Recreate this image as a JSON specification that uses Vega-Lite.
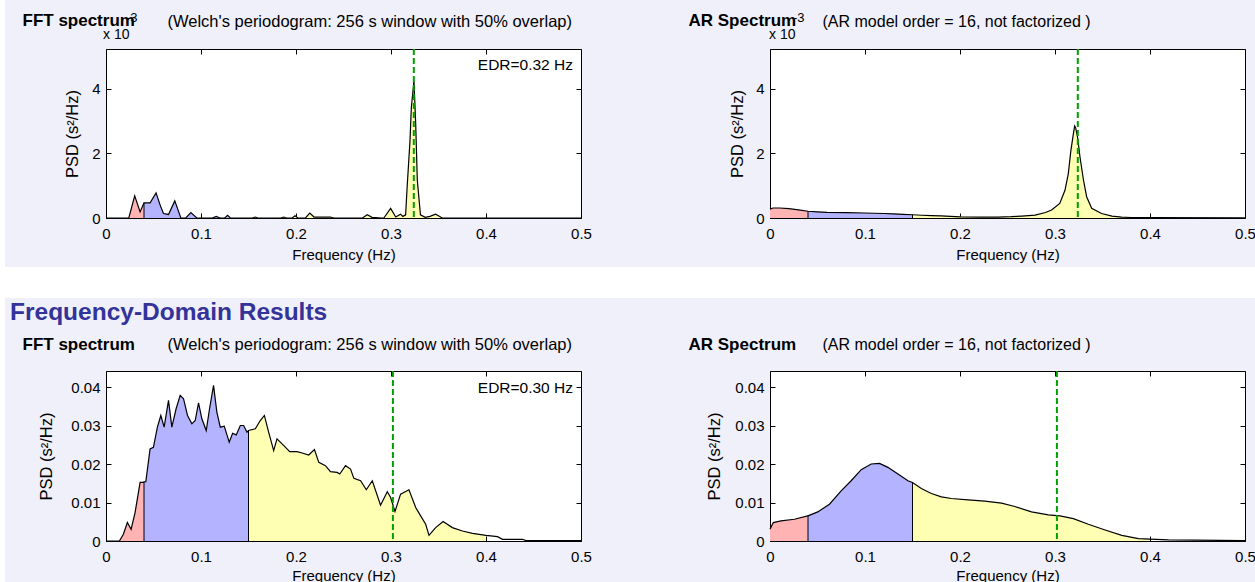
{
  "$schema": "https://vega.github.io/schema/vega-lite/v6.json",
  "background": "#F0F0FA",
  "padding": 0,
  "bounds": "flush",
  "spacing": 0,
  "columns": 6,
  "datasets": {
    "tl": [
      {"f":0,"p":0,"b":"VLF"},{"f":0.024,"p":0,"b":"VLF"},{"f":0.0302,"p":0.69,"b":"VLF"},{"f":0.0359,"p":0.19,"b":"VLF"},{"f":0.04,"p":0.47,"b":"VLF"},
      {"f":0.04,"p":0.47,"b":"LF"},{"f":0.0464,"p":0.47,"b":"LF"},{"f":0.0527,"p":0.78,"b":"LF"},{"f":0.057,"p":0.4,"b":"LF"},{"f":0.0605,"p":0.14,"b":"LF"},{"f":0.0658,"p":0.11,"b":"LF"},{"f":0.0724,"p":0.53,"b":"LF"},{"f":0.0788,"p":0,"b":"LF"},{"f":0.084,"p":0,"b":"LF"},{"f":0.0893,"p":0.17,"b":"LF"},{"f":0.0956,"p":0,"b":"LF"},{"f":0.112,"p":0,"b":"LF"},{"f":0.116,"p":0.05,"b":"LF"},{"f":0.12,"p":0,"b":"LF"},{"f":0.125,"p":0,"b":"LF"},{"f":0.128,"p":0.08,"b":"LF"},{"f":0.131,"p":0,"b":"LF"},{"f":0.15,"p":0,"b":"LF"},
      {"f":0.15,"p":0,"b":"HF"},{"f":0.154,"p":0,"b":"HF"},{"f":0.157,"p":0.03,"b":"HF"},{"f":0.16,"p":0,"b":"HF"},{"f":0.184,"p":0,"b":"HF"},{"f":0.187,"p":0.03,"b":"HF"},{"f":0.19,"p":0,"b":"HF"},{"f":0.196,"p":0,"b":"HF"},{"f":0.199,"p":0.07,"b":"HF"},{"f":0.202,"p":0,"b":"HF"},{"f":0.21,"p":0,"b":"HF"},{"f":0.2145,"p":0.15,"b":"HF"},{"f":0.219,"p":0.03,"b":"HF"},{"f":0.226,"p":0.03,"b":"HF"},{"f":0.236,"p":0.03,"b":"HF"},{"f":0.24,"p":0,"b":"HF"},{"f":0.27,"p":0,"b":"HF"},{"f":0.275,"p":0.1,"b":"HF"},{"f":0.28,"p":0.02,"b":"HF"},{"f":0.29,"p":0,"b":"HF"},{"f":0.2925,"p":0,"b":"HF"},{"f":0.2996,"p":0.3,"b":"HF"},{"f":0.305,"p":0.03,"b":"HF"},{"f":0.31,"p":0.12,"b":"HF"},{"f":0.3125,"p":0.05,"b":"HF"},{"f":0.3154,"p":0.1,"b":"HF"},{"f":0.317,"p":0.96,"b":"HF"},{"f":0.32,"p":2.4,"b":"HF"},{"f":0.3214,"p":3.42,"b":"HF"},{"f":0.3242,"p":4.25,"b":"HF"},{"f":0.326,"p":2.91,"b":"HF"},{"f":0.3277,"p":1.17,"b":"HF"},{"f":0.331,"p":0.1,"b":"HF"},{"f":0.336,"p":0.02,"b":"HF"},{"f":0.341,"p":0.05,"b":"HF"},{"f":0.347,"p":0.12,"b":"HF"},{"f":0.354,"p":0,"b":"HF"},{"f":0.4,"p":0,"b":"HF"},
      {"f":0.4,"p":0,"b":"none"},{"f":0.5,"p":0,"b":"none"}
    ],
    "tr": [
      {"f":0,"p":0.27,"b":"VLF"},{"f":0.003,"p":0.31,"b":"VLF"},{"f":0.01,"p":0.31,"b":"VLF"},{"f":0.02,"p":0.29,"b":"VLF"},{"f":0.03,"p":0.25,"b":"VLF"},{"f":0.04,"p":0.21,"b":"VLF"},
      {"f":0.04,"p":0.21,"b":"LF"},{"f":0.05,"p":0.19,"b":"LF"},{"f":0.06,"p":0.175,"b":"LF"},{"f":0.08,"p":0.165,"b":"LF"},{"f":0.1,"p":0.155,"b":"LF"},{"f":0.12,"p":0.14,"b":"LF"},{"f":0.13,"p":0.13,"b":"LF"},{"f":0.14,"p":0.115,"b":"LF"},{"f":0.15,"p":0.1,"b":"LF"},
      {"f":0.15,"p":0.1,"b":"HF"},{"f":0.16,"p":0.085,"b":"HF"},{"f":0.17,"p":0.075,"b":"HF"},{"f":0.18,"p":0.065,"b":"HF"},{"f":0.19,"p":0.05,"b":"HF"},{"f":0.2,"p":0.035,"b":"HF"},{"f":0.22,"p":0.025,"b":"HF"},{"f":0.24,"p":0.03,"b":"HF"},{"f":0.254,"p":0.04,"b":"HF"},{"f":0.265,"p":0.06,"b":"HF"},{"f":0.279,"p":0.09,"b":"HF"},{"f":0.29,"p":0.17,"b":"HF"},{"f":0.2964,"p":0.25,"b":"HF"},{"f":0.305,"p":0.45,"b":"HF"},{"f":0.3105,"p":0.86,"b":"HF"},{"f":0.314,"p":1.37,"b":"HF"},{"f":0.3167,"p":2.09,"b":"HF"},{"f":0.3193,"p":2.6,"b":"HF"},{"f":0.3207,"p":2.85,"b":"HF"},{"f":0.3217,"p":2.8,"b":"HF"},{"f":0.3238,"p":2.5,"b":"HF"},{"f":0.3263,"p":1.89,"b":"HF"},{"f":0.33,"p":1.17,"b":"HF"},{"f":0.3333,"p":0.66,"b":"HF"},{"f":0.3386,"p":0.3,"b":"HF"},{"f":0.349,"p":0.14,"b":"HF"},{"f":0.36,"p":0.06,"b":"HF"},{"f":0.37,"p":0.03,"b":"HF"},{"f":0.38,"p":0.015,"b":"HF"},{"f":0.4,"p":0.01,"b":"HF"},
      {"f":0.4,"p":0.01,"b":"none"},{"f":0.5,"p":0.005,"b":"none"}
    ],
    "bl": [
      {"f":0,"p":0,"b":"VLF"},{"f":0.0141,"p":0,"b":"VLF"},{"f":0.0183,"p":0.00174,"b":"VLF"},{"f":0.0225,"p":0.00479,"b":"VLF"},{"f":0.0264,"p":0.00305,"b":"VLF"},{"f":0.0306,"p":0.0074,"b":"VLF"},{"f":0.0359,"p":0.01523,"b":"VLF"},{"f":0.0394,"p":0.01523,"b":"VLF"},{"f":0.04,"p":0.0154,"b":"VLF"},
      {"f":0.04,"p":0.0154,"b":"LF"},{"f":0.0419,"p":0.0154,"b":"LF"},{"f":0.0464,"p":0.02393,"b":"LF"},{"f":0.0499,"p":0.02437,"b":"LF"},{"f":0.0541,"p":0.02959,"b":"LF"},{"f":0.0577,"p":0.03264,"b":"LF"},{"f":0.0612,"p":0.02959,"b":"LF"},{"f":0.0658,"p":0.03655,"b":"LF"},{"f":0.0693,"p":0.02959,"b":"LF"},{"f":0.0738,"p":0.03438,"b":"LF"},{"f":0.0781,"p":0.03786,"b":"LF"},{"f":0.0816,"p":0.03699,"b":"LF"},{"f":0.0858,"p":0.03264,"b":"LF"},{"f":0.0904,"p":0.03046,"b":"LF"},{"f":0.0939,"p":0.03133,"b":"LF"},{"f":0.0974,"p":0.03594,"b":"LF"},{"f":0.1009,"p":0.03177,"b":"LF"},{"f":0.1055,"p":0.02872,"b":"LF"},{"f":0.109,"p":0.03438,"b":"LF"},{"f":0.1132,"p":0.04047,"b":"LF"},{"f":0.1167,"p":0.03351,"b":"LF"},{"f":0.1203,"p":0.02959,"b":"LF"},{"f":0.1245,"p":0.02985,"b":"LF"},{"f":0.1297,"p":0.02567,"b":"LF"},{"f":0.1333,"p":0.02802,"b":"LF"},{"f":0.1371,"p":0.02759,"b":"LF"},{"f":0.1414,"p":0.03003,"b":"LF"},{"f":0.1449,"p":0.03003,"b":"LF"},{"f":0.1484,"p":0.02829,"b":"LF"},{"f":0.15,"p":0.02872,"b":"LF"},
      {"f":0.15,"p":0.02872,"b":"HF"},{"f":0.1572,"p":0.02916,"b":"HF"},{"f":0.1624,"p":0.03133,"b":"HF"},{"f":0.1667,"p":0.03264,"b":"HF"},{"f":0.1712,"p":0.02829,"b":"HF"},{"f":0.1765,"p":0.0235,"b":"HF"},{"f":0.18,"p":0.02655,"b":"HF"},{"f":0.1864,"p":0.02498,"b":"HF"},{"f":0.1934,"p":0.02324,"b":"HF"},{"f":0.2011,"p":0.02324,"b":"HF"},{"f":0.2064,"p":0.02289,"b":"HF"},{"f":0.2134,"p":0.02237,"b":"HF"},{"f":0.2194,"p":0.02376,"b":"HF"},{"f":0.224,"p":0.02045,"b":"HF"},{"f":0.231,"p":0.01958,"b":"HF"},{"f":0.2363,"p":0.01802,"b":"HF"},{"f":0.2433,"p":0.01784,"b":"HF"},{"f":0.2461,"p":0.01741,"b":"HF"},{"f":0.2521,"p":0.01958,"b":"HF"},{"f":0.2574,"p":0.01871,"b":"HF"},{"f":0.2609,"p":0.01628,"b":"HF"},{"f":0.268,"p":0.01567,"b":"HF"},{"f":0.274,"p":0.01332,"b":"HF"},{"f":0.2803,"p":0.01567,"b":"HF"},{"f":0.289,"p":0.00931,"b":"HF"},{"f":0.2961,"p":0.01279,"b":"HF"},{"f":0.2996,"p":0.01131,"b":"HF"},{"f":0.3042,"p":0.00766,"b":"HF"},{"f":0.3101,"p":0.01218,"b":"HF"},{"f":0.3189,"p":0.01332,"b":"HF"},{"f":0.326,"p":0.0087,"b":"HF"},{"f":0.3312,"p":0.00653,"b":"HF"},{"f":0.3365,"p":0.00435,"b":"HF"},{"f":0.34,"p":0.00148,"b":"HF"},{"f":0.347,"p":0.00348,"b":"HF"},{"f":0.3548,"p":0.00505,"b":"HF"},{"f":0.3646,"p":0.00348,"b":"HF"},{"f":0.3752,"p":0.00261,"b":"HF"},{"f":0.3857,"p":0.002,"b":"HF"},{"f":0.4,"p":0.00148,"b":"HF"},
      {"f":0.4,"p":0.00148,"b":"none"},{"f":0.4121,"p":0.00113,"b":"none"},{"f":0.4174,"p":0.00044,"b":"none"},{"f":0.4385,"p":0.00044,"b":"none"},{"f":0.442,"p":0.0001,"b":"none"},{"f":0.5,"p":0.0001,"b":"none"}
    ],
    "br": [
      {"f":0,"p":0.00305,"b":"VLF"},{"f":0.0035,"p":0.00479,"b":"VLF"},{"f":0.0116,"p":0.00522,"b":"VLF"},{"f":0.0257,"p":0.00566,"b":"VLF"},{"f":0.0397,"p":0.00653,"b":"VLF"},{"f":0.04,"p":0.00655,"b":"VLF"},
      {"f":0.04,"p":0.00655,"b":"LF"},{"f":0.0503,"p":0.00757,"b":"LF"},{"f":0.0626,"p":0.00957,"b":"LF"},{"f":0.0749,"p":0.01305,"b":"LF"},{"f":0.0854,"p":0.01567,"b":"LF"},{"f":0.096,"p":0.01854,"b":"LF"},{"f":0.1065,"p":0.02002,"b":"LF"},{"f":0.1153,"p":0.02019,"b":"LF"},{"f":0.1241,"p":0.01915,"b":"LF"},{"f":0.1347,"p":0.01741,"b":"LF"},{"f":0.1452,"p":0.01567,"b":"LF"},{"f":0.15,"p":0.0152,"b":"LF"},
      {"f":0.15,"p":0.0152,"b":"HF"},{"f":0.1593,"p":0.01366,"b":"HF"},{"f":0.1698,"p":0.01236,"b":"HF"},{"f":0.1804,"p":0.01149,"b":"HF"},{"f":0.1909,"p":0.01105,"b":"HF"},{"f":0.2085,"p":0.0107,"b":"HF"},{"f":0.2261,"p":0.01036,"b":"HF"},{"f":0.2437,"p":0.00983,"b":"HF"},{"f":0.2577,"p":0.00896,"b":"HF"},{"f":0.2753,"p":0.00757,"b":"HF"},{"f":0.2929,"p":0.00679,"b":"HF"},{"f":0.3052,"p":0.00653,"b":"HF"},{"f":0.3193,"p":0.00583,"b":"HF"},{"f":0.3351,"p":0.00435,"b":"HF"},{"f":0.3527,"p":0.00287,"b":"HF"},{"f":0.3703,"p":0.00148,"b":"HF"},{"f":0.3878,"p":0.00061,"b":"HF"},{"f":0.4,"p":0.0005,"b":"HF"},
      {"f":0.4,"p":0.0005,"b":"none"},{"f":0.4195,"p":0.0003,"b":"none"},{"f":0.5,"p":0.0001,"b":"none"}
    ]
  },
  "concat": [
    {"width": 5, "height": 49, "view": {"fill": "white"}, "data": {"values": []}, "mark": "point", "encoding": {}},
    {"width": 101, "height": 49, "data": {"values": []}, "mark": "point", "encoding": {}},
    {"width": 475, "height": 49, "data": {"values": []}, "mark": "point", "encoding": {}},
    {"width": 189, "height": 49, "data": {"values": []}, "mark": "point", "encoding": {}},
    {"width": 475, "height": 49, "data": {"values": []}, "mark": "point", "encoding": {}},
    {"width": 10, "height": 49, "data": {"values": []}, "mark": "point", "encoding": {}},

    {"width": 5, "height": 169, "view": {"fill": "white"}, "data": {"values": []}, "mark": "point", "encoding": {}},
    {"width": 101, "height": 169, "data": {"values": []}, "mark": "point", "encoding": {}},
    {
      "width": 475, "height": 169,
      "view": {"fill": "white", "stroke": "black", "strokeWidth": 1},
      "resolve": {"axis": {"x": "independent", "y": "independent"}},
      "layer": [
        {
          "data": {"name": "tl"},
          "transform": [{"filter": "datum.b != 'none'"}],
          "mark": {"type": "area"},
          "encoding": {
            "x": {"field": "f", "type": "quantitative", "scale": {"domain": [0, 0.5], "nice": false, "zero": false},
                  "axis": {"orient": "bottom", "values": [0, 0.1, 0.2, 0.3, 0.4, 0.5], "format": ".1~f", "title": "Frequency (Hz)", "titleY": 36, "titleBaseline": "middle"}},
            "y": {"field": "p", "type": "quantitative", "stack": null, "scale": {"domain": [0, 5.24], "nice": false},
                  "axis": {"orient": "left", "values": [0, 2, 4], "format": "d", "title": "PSD (s²/Hz)", "titleX": -34, "titleBaseline": "middle", "titleFontSize": 16.5}},
            "color": {"field": "b", "type": "nominal", "scale": {"domain": ["VLF", "LF", "HF"], "range": ["#FFB3B3", "#B3B3FF", "#FFFFB3"]}, "legend": null}
          }
        },
        {
          "data": {"name": "tl"},
          "transform": [{"filter": "datum.b == 'LF' && (datum.f == 0.04 || datum.f == 0.15)"}],
          "mark": {"type": "rule", "color": "black", "strokeWidth": 1},
          "encoding": {"x": {"field": "f", "type": "quantitative", "axis": null}, "y": {"field": "p", "type": "quantitative", "axis": null}, "y2": {"datum": 0}}
        },
        {
          "data": {"name": "tl"},
          "mark": {"type": "line", "color": "black", "strokeWidth": 1.2},
          "encoding": {
            "x": {"field": "f", "type": "quantitative",
                  "axis": {"orient": "top", "values": [0, 0.1, 0.2, 0.3, 0.4, 0.5], "labels": false, "title": "FFT spectrum", "titleX": -84, "titleY": -29, "titleAlign": "left", "titleBaseline": "middle", "titleFontWeight": "bold", "titleFontSize": 17}},
            "y": {"field": "p", "type": "quantitative",
                  "axis": {"orient": "right", "values": [0, 2, 4], "labels": false, "title": "(Welch's periodogram: 256 s window with 50% overlap)", "titleAngle": 0, "titleX": -414, "titleY": -28, "titleAlign": "left", "titleBaseline": "middle", "titleFontSize": 16.5}}
          }
        },
        {
          "data": {"values": [{"edr": 0.324, "label": "EDR=0.32 Hz"}]},
          "mark": {"type": "rule", "color": "#00A000", "strokeWidth": 2, "strokeDash": [6, 3]},
          "encoding": {"x": {"field": "edr", "type": "quantitative", "axis": null}}
        },
        {
          "data": {"values": [{"edr": 0.324, "label": "EDR=0.32 Hz"}]},
          "mark": {"type": "text", "align": "right", "baseline": "middle", "dx": -8, "dy": 16, "fontSize": 15.5},
          "encoding": {"x": {"datum": 0.5, "axis": null}, "y": {"datum": 5.24, "axis": null}, "text": {"field": "label"}}
        },
        {
          "data": {"values": [{"label": "x 10"}]},
          "mark": {"type": "text", "align": "left", "baseline": "middle", "dx": -3, "dy": -14, "fontSize": 14},
          "encoding": {"x": {"datum": 0, "axis": null}, "y": {"datum": 5.24, "axis": null}, "text": {"field": "label"}}
        },
        {
          "data": {"values": [{"label": "-3"}]},
          "mark": {"type": "text", "align": "left", "baseline": "middle", "dx": 20, "dy": -31, "fontSize": 13},
          "encoding": {"x": {"datum": 0, "axis": null}, "y": {"datum": 5.24, "axis": null}, "text": {"field": "label"}}
        }
      ]
    },
    {"width": 189, "height": 169, "data": {"values": []}, "mark": "point", "encoding": {}},
    {
      "width": 475, "height": 169,
      "view": {"fill": "white", "stroke": "black", "strokeWidth": 1},
      "resolve": {"axis": {"x": "independent", "y": "independent"}},
      "layer": [
        {
          "data": {"name": "tr"},
          "transform": [{"filter": "datum.b != 'none'"}],
          "mark": {"type": "area"},
          "encoding": {
            "x": {"field": "f", "type": "quantitative", "scale": {"domain": [0, 0.5], "nice": false, "zero": false},
                  "axis": {"orient": "bottom", "values": [0, 0.1, 0.2, 0.3, 0.4, 0.5], "format": ".1~f", "title": "Frequency (Hz)", "titleY": 36, "titleBaseline": "middle"}},
            "y": {"field": "p", "type": "quantitative", "stack": null, "scale": {"domain": [0, 5.24], "nice": false},
                  "axis": {"orient": "left", "values": [0, 2, 4], "format": "d", "title": "PSD (s²/Hz)", "titleX": -33, "titleBaseline": "middle", "titleFontSize": 16.5}},
            "color": {"field": "b", "type": "nominal", "scale": {"domain": ["VLF", "LF", "HF"], "range": ["#FFB3B3", "#B3B3FF", "#FFFFB3"]}, "legend": null}
          }
        },
        {
          "data": {"name": "tr"},
          "transform": [{"filter": "datum.b == 'LF' && (datum.f == 0.04 || datum.f == 0.15)"}],
          "mark": {"type": "rule", "color": "black", "strokeWidth": 1},
          "encoding": {"x": {"field": "f", "type": "quantitative", "axis": null}, "y": {"field": "p", "type": "quantitative", "axis": null}, "y2": {"datum": 0}}
        },
        {
          "data": {"name": "tr"},
          "mark": {"type": "line", "color": "black", "strokeWidth": 1.2},
          "encoding": {
            "x": {"field": "f", "type": "quantitative",
                  "axis": {"orient": "top", "values": [0, 0.1, 0.2, 0.3, 0.4, 0.5], "labels": false, "title": "AR Spectrum", "titleX": -82, "titleY": -29, "titleAlign": "left", "titleBaseline": "middle", "titleFontWeight": "bold", "titleFontSize": 17}},
            "y": {"field": "p", "type": "quantitative",
                  "axis": {"orient": "right", "values": [0, 2, 4], "labels": false, "title": "(AR model order = 16, not factorized )", "titleAngle": 0, "titleX": -423, "titleY": -28, "titleAlign": "left", "titleBaseline": "middle", "titleFontSize": 16}}
          }
        },
        {
          "data": {"values": [{"edr": 0.324}]},
          "mark": {"type": "rule", "color": "#00A000", "strokeWidth": 2, "strokeDash": [6, 3]},
          "encoding": {"x": {"field": "edr", "type": "quantitative", "axis": null}}
        },
        {
          "data": {"values": [{"label": "x 10"}]},
          "mark": {"type": "text", "align": "left", "baseline": "middle", "dx": -1, "dy": -14, "fontSize": 14},
          "encoding": {"x": {"datum": 0, "axis": null}, "y": {"datum": 5.24, "axis": null}, "text": {"field": "label"}}
        },
        {
          "data": {"values": [{"label": "-3"}]},
          "mark": {"type": "text", "align": "left", "baseline": "middle", "dx": 23, "dy": -31, "fontSize": 13},
          "encoding": {"x": {"datum": 0, "axis": null}, "y": {"datum": 5.24, "axis": null}, "text": {"field": "label"}}
        }
      ]
    },
    {"width": 10, "height": 169, "data": {"values": []}, "mark": "point", "encoding": {}},

    {"width": 5, "height": 49, "view": {"fill": "white"}, "data": {"values": []}, "mark": "point", "encoding": {}},
    {"width": 101, "height": 49, "data": {"values": []}, "mark": "point", "encoding": {}},
    {"width": 475, "height": 49, "data": {"values": []}, "mark": "point", "encoding": {}},
    {"width": 189, "height": 49, "data": {"values": []}, "mark": "point", "encoding": {}},
    {"width": 475, "height": 49, "data": {"values": []}, "mark": "point", "encoding": {}},
    {"width": 10, "height": 49, "data": {"values": []}, "mark": "point", "encoding": {}},

    {"width": 5, "height": 31, "view": {"fill": "white"}, "data": {"values": []}, "mark": "point", "encoding": {}},
    {
      "width": 101, "height": 31, "view": {"fill": "white"},
      "title": {"text": "Frequency-Domain Results", "orient": "bottom", "anchor": "start", "frame": "group", "dx": 5, "offset": 15, "baseline": "middle", "fontSize": 24.5, "fontWeight": "bold", "color": "#333399", "font": "Liberation Sans"},
      "data": {"values": []}, "mark": "point", "encoding": {}
    },
    {"width": 475, "height": 31, "view": {"fill": "white"}, "data": {"values": []}, "mark": "point", "encoding": {}},
    {"width": 189, "height": 31, "view": {"fill": "white"}, "data": {"values": []}, "mark": "point", "encoding": {}},
    {"width": 475, "height": 31, "view": {"fill": "white"}, "data": {"values": []}, "mark": "point", "encoding": {}},
    {"width": 10, "height": 31, "view": {"fill": "white"}, "data": {"values": []}, "mark": "point", "encoding": {}},

    {"width": 5, "height": 73, "view": {"fill": "white"}, "data": {"values": []}, "mark": "point", "encoding": {}},
    {"width": 101, "height": 73, "data": {"values": []}, "mark": "point", "encoding": {}},
    {"width": 475, "height": 73, "data": {"values": []}, "mark": "point", "encoding": {}},
    {"width": 189, "height": 73, "data": {"values": []}, "mark": "point", "encoding": {}},
    {"width": 475, "height": 73, "data": {"values": []}, "mark": "point", "encoding": {}},
    {"width": 10, "height": 73, "data": {"values": []}, "mark": "point", "encoding": {}},

    {"width": 5, "height": 170, "view": {"fill": "white"}, "data": {"values": []}, "mark": "point", "encoding": {}},
    {"width": 101, "height": 170, "data": {"values": []}, "mark": "point", "encoding": {}},
    {
      "width": 475, "height": 170,
      "view": {"fill": "white", "stroke": "black", "strokeWidth": 1},
      "resolve": {"axis": {"x": "independent", "y": "independent"}},
      "layer": [
        {
          "data": {"name": "bl"},
          "transform": [{"filter": "datum.b != 'none'"}],
          "mark": {"type": "area"},
          "encoding": {
            "x": {"field": "f", "type": "quantitative", "scale": {"domain": [0, 0.5], "nice": false, "zero": false},
                  "axis": {"orient": "bottom", "values": [0, 0.1, 0.2, 0.3, 0.4, 0.5], "format": ".1~f", "title": "Frequency (Hz)", "titleY": 34, "titleBaseline": "middle"}},
            "y": {"field": "p", "type": "quantitative", "stack": null, "scale": {"domain": [0, 0.0442], "nice": false},
                  "axis": {"orient": "left", "values": [0, 0.01, 0.02, 0.03, 0.04], "format": ".2~f", "title": "PSD (s²/Hz)", "titleX": -60, "titleBaseline": "middle", "titleFontSize": 16.5}},
            "color": {"field": "b", "type": "nominal", "scale": {"domain": ["VLF", "LF", "HF"], "range": ["#FFB3B3", "#B3B3FF", "#FFFFB3"]}, "legend": null}
          }
        },
        {
          "data": {"name": "bl"},
          "transform": [{"filter": "datum.b == 'LF' && (datum.f == 0.04 || datum.f == 0.15)"}],
          "mark": {"type": "rule", "color": "black", "strokeWidth": 1},
          "encoding": {"x": {"field": "f", "type": "quantitative", "axis": null}, "y": {"field": "p", "type": "quantitative", "axis": null}, "y2": {"datum": 0}}
        },
        {
          "data": {"name": "bl"},
          "mark": {"type": "line", "color": "black", "strokeWidth": 1.2},
          "encoding": {
            "x": {"field": "f", "type": "quantitative",
                  "axis": {"orient": "top", "values": [0, 0.1, 0.2, 0.3, 0.4, 0.5], "labels": false, "title": "FFT spectrum", "titleX": -84, "titleY": -27, "titleAlign": "left", "titleBaseline": "middle", "titleFontWeight": "bold", "titleFontSize": 17}},
            "y": {"field": "p", "type": "quantitative",
                  "axis": {"orient": "right", "values": [0, 0.01, 0.02, 0.03, 0.04], "labels": false, "title": "(Welch's periodogram: 256 s window with 50% overlap)", "titleAngle": 0, "titleX": -414, "titleY": -27, "titleAlign": "left", "titleBaseline": "middle", "titleFontSize": 16.5}}
          }
        },
        {
          "data": {"values": [{"edr": 0.302, "label": "EDR=0.30 Hz"}]},
          "mark": {"type": "rule", "color": "#00A000", "strokeWidth": 2, "strokeDash": [6, 3]},
          "encoding": {"x": {"field": "edr", "type": "quantitative", "axis": null}}
        },
        {
          "data": {"values": [{"edr": 0.302, "label": "EDR=0.30 Hz"}]},
          "mark": {"type": "text", "align": "right", "baseline": "middle", "dx": -8, "dy": 17, "fontSize": 15.5},
          "encoding": {"x": {"datum": 0.5, "axis": null}, "y": {"datum": 0.0442, "axis": null}, "text": {"field": "label"}}
        }
      ]
    },
    {"width": 189, "height": 170, "data": {"values": []}, "mark": "point", "encoding": {}},
    {
      "width": 475, "height": 170,
      "view": {"fill": "white", "stroke": "black", "strokeWidth": 1},
      "resolve": {"axis": {"x": "independent", "y": "independent"}},
      "layer": [
        {
          "data": {"name": "br"},
          "transform": [{"filter": "datum.b != 'none'"}],
          "mark": {"type": "area"},
          "encoding": {
            "x": {"field": "f", "type": "quantitative", "scale": {"domain": [0, 0.5], "nice": false, "zero": false},
                  "axis": {"orient": "bottom", "values": [0, 0.1, 0.2, 0.3, 0.4, 0.5], "format": ".1~f", "title": "Frequency (Hz)", "titleY": 34, "titleBaseline": "middle"}},
            "y": {"field": "p", "type": "quantitative", "stack": null, "scale": {"domain": [0, 0.0442], "nice": false},
                  "axis": {"orient": "left", "values": [0, 0.01, 0.02, 0.03, 0.04], "format": ".2~f", "title": "PSD (s²/Hz)", "titleX": -56, "titleBaseline": "middle", "titleFontSize": 16.5}},
            "color": {"field": "b", "type": "nominal", "scale": {"domain": ["VLF", "LF", "HF"], "range": ["#FFB3B3", "#B3B3FF", "#FFFFB3"]}, "legend": null}
          }
        },
        {
          "data": {"name": "br"},
          "transform": [{"filter": "datum.b == 'LF' && (datum.f == 0.04 || datum.f == 0.15)"}],
          "mark": {"type": "rule", "color": "black", "strokeWidth": 1},
          "encoding": {"x": {"field": "f", "type": "quantitative", "axis": null}, "y": {"field": "p", "type": "quantitative", "axis": null}, "y2": {"datum": 0}}
        },
        {
          "data": {"name": "br"},
          "mark": {"type": "line", "color": "black", "strokeWidth": 1.2},
          "encoding": {
            "x": {"field": "f", "type": "quantitative",
                  "axis": {"orient": "top", "values": [0, 0.1, 0.2, 0.3, 0.4, 0.5], "labels": false, "title": "AR Spectrum", "titleX": -82, "titleY": -27, "titleAlign": "left", "titleBaseline": "middle", "titleFontWeight": "bold", "titleFontSize": 17}},
            "y": {"field": "p", "type": "quantitative",
                  "axis": {"orient": "right", "values": [0, 0.01, 0.02, 0.03, 0.04], "labels": false, "title": "(AR model order = 16, not factorized )", "titleAngle": 0, "titleX": -423, "titleY": -27, "titleAlign": "left", "titleBaseline": "middle", "titleFontSize": 16}}
          }
        },
        {
          "data": {"values": [{"edr": 0.302}]},
          "mark": {"type": "rule", "color": "#00A000", "strokeWidth": 2, "strokeDash": [6, 3]},
          "encoding": {"x": {"field": "edr", "type": "quantitative", "axis": null}}
        }
      ]
    },
    {"width": 10, "height": 170, "data": {"values": []}, "mark": "point", "encoding": {}},

    {"width": 5, "height": 41, "view": {"fill": "white"}, "data": {"values": []}, "mark": "point", "encoding": {}},
    {"width": 101, "height": 41, "data": {"values": []}, "mark": "point", "encoding": {}},
    {"width": 475, "height": 41, "data": {"values": []}, "mark": "point", "encoding": {}},
    {"width": 189, "height": 41, "data": {"values": []}, "mark": "point", "encoding": {}},
    {"width": 475, "height": 41, "data": {"values": []}, "mark": "point", "encoding": {}},
    {"width": 10, "height": 41, "data": {"values": []}, "mark": "point", "encoding": {}}
  ],
  "config": {
    "view": {"stroke": null},
    "font": "Liberation Sans",
    "concat": {"spacing": 0},
    "axis": {"grid": false, "domain": false, "ticks": true, "tickColor": "black", "tickSize": -5, "tickWidth": 1, "labelColor": "black", "labelFont": "Liberation Sans", "labelFontSize": 15, "labelFlush": false, "labelOverlap": false, "titleFont": "Liberation Sans", "titleFontSize": 15, "titleFontWeight": "normal", "titleColor": "black"},
    "axisX": {"labelPadding": 13},
    "axisY": {"labelPadding": 11},
    "text": {"font": "Liberation Sans", "color": "black"}
  }
}
